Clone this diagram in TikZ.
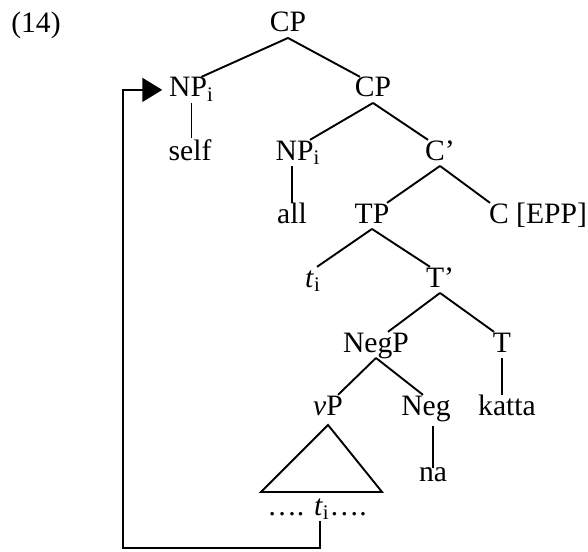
\documentclass[tikz,border=0pt]{standalone}
\usepackage{fontspec}
\setmainfont{Liberation Serif}
\usepackage{tikz}
\usetikzlibrary{arrows.meta}

\begin{document}
\begin{tikzpicture}[x=0.5pt, y=-0.5pt, >={Triangle[length=10pt,width=12pt]}, line width=0.95pt,
    every node/.style={font=\fontsize{14.8}{17}\selectfont},
    lab/.style={anchor=base, inner xsep=0pt, inner ysep=2pt, text height=0.76em, text depth=0.05em}]
        \useasboundingbox (0,0) rectangle (588,551);
        \node [lab] (ex) at (36,33) {(14)};
        \node [lab] (cp) at (288,32) {CP};
        \node [lab] (npa) at (191.5,97) {NP\textsubscript{i}};
        \node [lab] (cpb) at (373,97) {CP};
        \node [lab] (self) at (190,160) {self};
        \node [lab] (npb) at (298,160) {NP\textsubscript{i}};
        \node [lab] (cbar) at (440,160) {C’};
        \node [lab] (all) at (292,223) {all};
        \node [lab] (tp) at (372,223) {TP};
        \node [lab] (cepp) at (538,223) {C [EPP]};
        \node [lab] (ti) at (313,287) {\textit{t}\textsubscript{i}};
        \node [lab] (tbar) at (440,287) {T’};
        \node [lab] (negp) at (376,352) {NegP};
        \node [lab] (t) at (502,352) {T};
        \node [lab] (vp) at (328,415) {\textit{v}P};
        \node [lab] (neg) at (426,415) {Neg};
        \node [lab] (katta) at (507,415) {katta};
        \node [lab] (na) at (433,481) {na};
        \node [lab] (dots) at (317,515) {…. \textit{t}\textsubscript{i}….};
        \coordinate (bl) at (123,548);

        \foreach \a/\b/\d in {cp/npa/5pt, cp/cpb/-6.5pt, cpb/npb/6pt, cpb/cbar/-6pt, cbar/tp/7.5pt,
            cbar/cepp/-24pt, tp/ti/2pt, tp/tbar/-5pt, tbar/negp/6pt, tbar/t/-4pt, negp/vp/5pt, negp/neg/-1.5pt}{
            \draw (\a.south) -- ([xshift=\d]\b.north);
        }
        \draw (npa.south) -- ([yshift=1pt]npa.south |- self.north);
        \draw (all.north |- npb.south) -- (all.north);
        \draw (t.south) -- (t.south |- katta.north);
        \draw ([yshift=-2.5pt]na.north |- neg.south) -- ([yshift=-3.5pt]na.north);
        \draw ([yshift=-2pt]vp.south) -- ++(-67,67) -- ++(121,0) -- cycle;
        \draw [->, shorten >=3pt] ([xshift=1.5pt]dots.south) |- (bl) |- (npa.west);
    \end{tikzpicture}
\end{document}
